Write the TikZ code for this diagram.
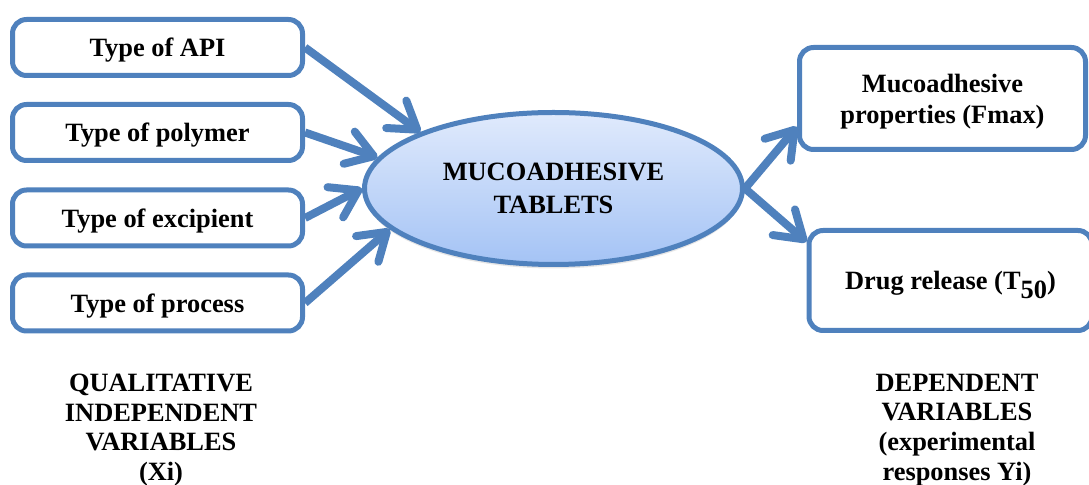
\documentclass[tikz,border=0pt]{standalone}
\usepackage{fontspec}
\setmainfont{Liberation Serif}
\usepackage{tikz}
\usetikzlibrary{arrows.meta,shapes.geometric,shadows}
\definecolor{frameBlue}{RGB}{79, 129, 189}
\definecolor{tabTop}{RGB}{224, 234, 252}
\definecolor{tabBottom}{RGB}{164, 195, 245}
\newcommand{\varfont}{\fontsize{13.2}{15.5}\selectfont\bfseries}

\tikzset{
  varbox/.style={draw=frameBlue, line width=2.5pt, rounded corners=7pt, fill=white,
    inner sep=0pt, align=center, text depth=0pt, font=\varfont},
  bigarrow/.style={draw=frameBlue, line width=4pt,
    -{Straight Barb[length=13pt, width=17pt, round]},
    drop shadow={opacity=0.15, shadow xshift=1pt, shadow yshift=-1.5pt}},
  lbl/.style={align=center, font=\fontsize{13.2}{14.9}\selectfont\bfseries}
}

\begin{document}
\begin{tikzpicture}[x=0.5pt, y=-0.5pt]
  \useasboundingbox (0,0) rectangle (1089,485);

  % 1. Qualitative inputs
  \node[varbox, minimum width=145pt, minimum height=28pt] (api) at (157.5,47.5) {Type of API};
  \node[varbox, minimum width=145pt, minimum height=28pt] (poly) at (157.5,132.5) {Type of polymer};
  \node[varbox, minimum width=145pt, minimum height=28pt] (exc) at (157.5,218) {Type of excipient};
  \node[varbox, minimum width=145pt, minimum height=28pt] (proc) at (157.5,303) {Type of process};

  % 2. Tablet
  \node[ellipse, draw=frameBlue, line width=2.5pt, top color=tabTop, bottom color=tabBottom,
    minimum width=189pt, minimum height=76pt, inner sep=0pt, align=center,
    font=\fontsize{13.2}{16.5}\selectfont\bfseries,
    drop shadow={opacity=0.2, shadow xshift=0pt, shadow yshift=-2pt}]
    (tab) at (553.5,188.5) {MUCOADHESIVE\\TABLETS};

  % 3. Responses
  \node[varbox, minimum width=143pt, minimum height=51pt, font=\fontsize{13.2}{15.5}\selectfont\bfseries]
    (fmax) at (942.5,98.5) {Mucoadhesive\\properties (Fmax)};
  \node[varbox, minimum width=141.5pt, minimum height=50pt]
    (rel) at (950.5,280.5) {Drug release (T\raisebox{-4.5pt}[0pt][0pt]{50})};

  % 4. Arrows
  \draw[bigarrow] (api.east) -- (tab.157);
  \draw[bigarrow] (poly.east) -- (tab.170);
  \draw[bigarrow] (exc.east) -- (tab.180);
  \draw[bigarrow] (proc.east) -- (tab.194);
  \draw[bigarrow] (tab.east) -- (fmax.191);
  \draw[bigarrow] (tab.east) -- (rel.165);

  % 5. Captions
  \node[lbl] (xlab) at (161,430) {QUALITATIVE\\INDEPENDENT\\VARIABLES\\(Xi)};
  \node[lbl] (ylab) at (957,430) {DEPENDENT\\VARIABLES\\(experimental\\responses Yi)};
\end{tikzpicture}
\end{document}
